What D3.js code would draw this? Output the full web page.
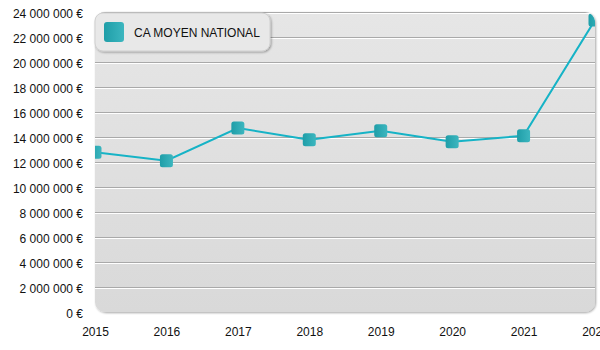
<!DOCTYPE html>
<html>
<head>
<meta charset="utf-8">
<script src="https://cdn.jsdelivr.net/npm/d3@7/dist/d3.min.js"></script>
<style>
  html, body { margin: 0; padding: 0; background: #fff; }
  svg { display: block; font-family: "Liberation Sans", Arial, sans-serif; }
</style>
</head>
<body>
<svg id="chart" width="600" height="350"></svg>
<script>
// Average national turnover per year
const years = ["2015", "2016", "2017", "2018", "2019", "2020", "2021", "2022"];
const caMoyen = [12780000, 12100000, 14720000, 13780000, 14500000, 13620000, 14100000, 23360000];
const yTicks = [0, 2000000, 4000000, 6000000, 8000000, 10000000, 12000000, 14000000,
                16000000, 18000000, 20000000, 22000000, 24000000];
const seriesName = "CA MOYEN NATIONAL";

const svg = d3.select("#chart");
const margin = { left: 95, right: 5, top: 12, bottom: 38 };
const W = 600, H = 350;
const innerW = W - margin.left - margin.right;
const innerH = H - margin.top - margin.bottom;

const x = d3.scalePoint().domain(years).range([margin.left, margin.left + innerW]);
const y = d3.scaleLinear().domain([0, 24000000]).range([margin.top + innerH, margin.top]);

const defs = svg.append("defs");

const bg = defs.append("linearGradient").attr("id", "bgGrad")
  .attr("x1", 0).attr("y1", 0).attr("x2", 0).attr("y2", 1);
bg.append("stop").attr("offset", "0%").attr("stop-color", "#e6e6e6");
bg.append("stop").attr("offset", "100%").attr("stop-color", "#d9d9d9");

const mk = defs.append("linearGradient").attr("id", "mkGrad")
  .attr("x1", 0).attr("y1", 0).attr("x2", 1).attr("y2", 0);
mk.append("stop").attr("offset", "0%").attr("stop-color", "#1f9ea8");
mk.append("stop").attr("offset", "100%").attr("stop-color", "#3cb6bf");

const sh = defs.append("filter").attr("id", "shadow")
  .attr("x", "-10%").attr("y", "-10%").attr("width", "130%").attr("height", "130%");
sh.append("feDropShadow").attr("dx", 1).attr("dy", 1).attr("stdDeviation", 1)
  .attr("flood-color", "#000").attr("flood-opacity", 0.35);

defs.append("clipPath").attr("id", "plotClip")
  .append("rect")
  .attr("x", margin.left).attr("y", margin.top)
  .attr("width", innerW).attr("height", innerH)
  .attr("rx", 10);

// plot background
svg.append("rect")
  .attr("x", margin.left).attr("y", margin.top)
  .attr("width", innerW).attr("height", innerH)
  .attr("rx", 10)
  .attr("fill", "url(#bgGrad)")
  .attr("filter", "url(#shadow)");

// embossed grid lines
const grid = svg.append("g").attr("clip-path", "url(#plotClip)");
grid.selectAll("line.dark").data(yTicks.slice(1)).join("line")
  .attr("x1", margin.left).attr("x2", margin.left + innerW)
  .attr("y1", d => Math.round(y(d)) + 0.5).attr("y2", d => Math.round(y(d)) + 0.5)
  .attr("stroke", "#a9a9a9").attr("stroke-width", 1);
grid.selectAll("line.light").data(yTicks.slice(1)).join("line")
  .attr("x1", margin.left).attr("x2", margin.left + innerW)
  .attr("y1", d => Math.round(y(d)) + 1.5).attr("y2", d => Math.round(y(d)) + 1.5)
  .attr("stroke", "#ffffff").attr("stroke-width", 1);

// y axis labels
const fmt = v => d3.format(",")(v).replace(/,/g, " ") + " €";
const yAxis = d3.axisLeft(y).tickValues(yTicks).tickFormat(fmt).tickSize(0).tickPadding(12);
const gy = svg.append("g").attr("transform", `translate(${margin.left},1.5)`).call(yAxis);
gy.select(".domain").remove();
gy.selectAll("text").attr("font-size", 12).attr("fill", "#111")
  .attr("font-family", "Liberation Sans, Arial, sans-serif");

// x axis labels
const xAxis = d3.axisBottom(x).tickSize(0).tickPadding(15);
const gx = svg.append("g").attr("transform", `translate(0,${margin.top + innerH})`).call(xAxis);
gx.select(".domain").remove();
gx.selectAll("text").attr("font-size", 12).attr("fill", "#111")
  .attr("font-family", "Liberation Sans, Arial, sans-serif");

// series line and markers
const plot = svg.append("g").attr("clip-path", "url(#plotClip)");
const line = d3.line().x((d, i) => x(years[i])).y(d => y(d));
plot.append("path").datum(caMoyen)
  .attr("d", line)
  .attr("fill", "none")
  .attr("stroke", "#16b3c6")
  .attr("stroke-width", 2);

const ms = 13;
plot.selectAll("rect.marker").data(caMoyen).join("rect")
  .attr("class", "marker")
  .attr("x", (d, i) => x(years[i]) - ms / 2)
  .attr("y", d => y(d) - ms / 2)
  .attr("width", ms).attr("height", ms)
  .attr("rx", 2.5)
  .attr("fill", "url(#mkGrad)");

// legend
const lg = svg.append("g");
lg.append("rect")
  .attr("x", 95).attr("y", 13).attr("width", 175).attr("height", 38)
  .attr("rx", 8)
  .attr("fill", "#e8e8e8")
  .attr("stroke", "#d0d0d0")
  .attr("filter", "url(#shadow)");
lg.append("rect")
  .attr("x", 104).attr("y", 22).attr("width", 20).attr("height", 20)
  .attr("rx", 3)
  .attr("fill", "url(#mkGrad)");
lg.append("text")
  .attr("x", 134).attr("y", 37)
  .attr("font-size", 12)
  .attr("fill", "#111")
  .text(seriesName);
</script>
</body>
</html>
